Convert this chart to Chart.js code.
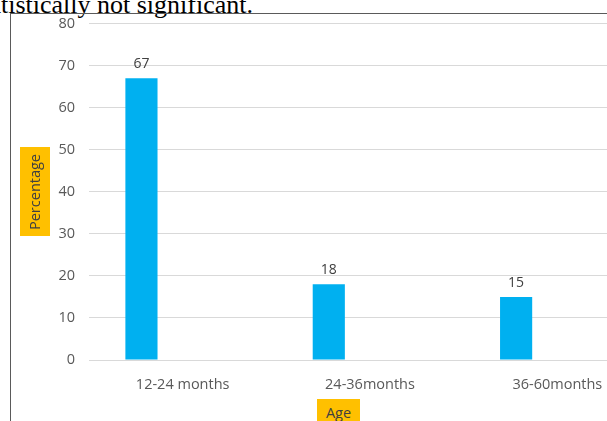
<!DOCTYPE html>
<html>
<head>
<meta charset="utf-8">
<script src="https://cdn.jsdelivr.net/npm/chart.js@4"></script>
<style>
  html, body { margin: 0; padding: 0; width: 607px; height: 421px; overflow: hidden; background: #fff; position: relative; }
  #note { position: absolute; left: -260px; width: 513px; top: -8px; text-align: right;
          font: 26px "Liberation Serif", serif; color: #000; line-height: 26px; white-space: nowrap; }
  #box { position: absolute; left: 10px; top: 13px; width: 700px; height: 430px;
         border-left: 1px solid #5a5a5a; border-top: 1px solid #5a5a5a; }
  #wrap { position: absolute; left: 0; top: -13px; width: 646px; height: 433px; }
  #ytitle { position: absolute; left: 20px; top: 147px; width: 30px; height: 89px; background: #FFC000;
            color: #404040; font: 14.5px "Open Sans", sans-serif; writing-mode: vertical-rl; transform: rotate(180deg);
            display: flex; align-items: center; justify-content: center; }
  #xtitle { position: absolute; left: 317px; top: 399px; width: 43px; height: 30px; background: #FFC000;
            color: #404040; font: 14.5px "Open Sans", sans-serif; text-align: center; line-height: 28px; }
</style>
</head>
<body>
<div id="note">statistically not significant.</div>
<div id="box"><div id="wrap"><canvas id="c"></canvas></div></div>
<div id="ytitle">Percentage</div>
<div id="xtitle">Age</div>
<script>
const ageGroups = ["12-24 months", "24-36months", "36-60months"];
const percentages = [67, 18, 15];
const spareSlot = [null, null, null];
const yTicks = [0, 10, 20, 30, 40, 50, 60, 70, 80];

const barLabels = {
    id: "barLabels",
    afterDatasetsDraw(chart) {
        const ctx = chart.ctx;
        const meta = chart.getDatasetMeta(0);
        ctx.save();
        ctx.font = "14px 'Open Sans', sans-serif";
        ctx.fillStyle = "#404040";
        ctx.textAlign = "center";
        ctx.textBaseline = "bottom";
        meta.data.forEach((bar, i) => {
            ctx.fillText(String(percentages[i]), bar.x, bar.y - 7);
        });
        ctx.restore();
    }
};

new Chart(document.getElementById("c"), {
    type: "bar",
    data: {
        labels: ageGroups,
        datasets: [
            { data: percentages, backgroundColor: "#00B0F0", borderWidth: 0 },
            { data: spareSlot, backgroundColor: "#00B0F0", borderWidth: 0 }
        ]
    },
    options: {
        responsive: true,
        maintainAspectRatio: false,
        animation: false,
        categoryPercentage: 0.88,
        barPercentage: 0.39,
        layout: { padding: { top: 8, right: 6, left: 0, bottom: 0 } },
        plugins: { legend: { display: false }, tooltip: { enabled: false } },
        scales: {
            x: {
                grid: { display: false },
                border: { display: false },
                ticks: { color: "#595959", font: { family: "Open Sans", size: 14.5 }, padding: 8, maxRotation: 0 },
                afterFit(scale) { scale.height = 74; }
            },
            y: {
                min: 0,
                max: 80,
                afterBuildTicks(scale) { scale.ticks = yTicks.map(v => ({ value: v })); },
                grid: { color: "#D9D9D9", drawTicks: false },
                border: { display: false },
                ticks: { color: "#595959", font: { family: "Open Sans", size: 14.5 }, padding: 14 },
                afterFit(scale) { scale.width = 78; }
            }
        }
    },
    plugins: [barLabels]
});
</script>
</body>
</html>
